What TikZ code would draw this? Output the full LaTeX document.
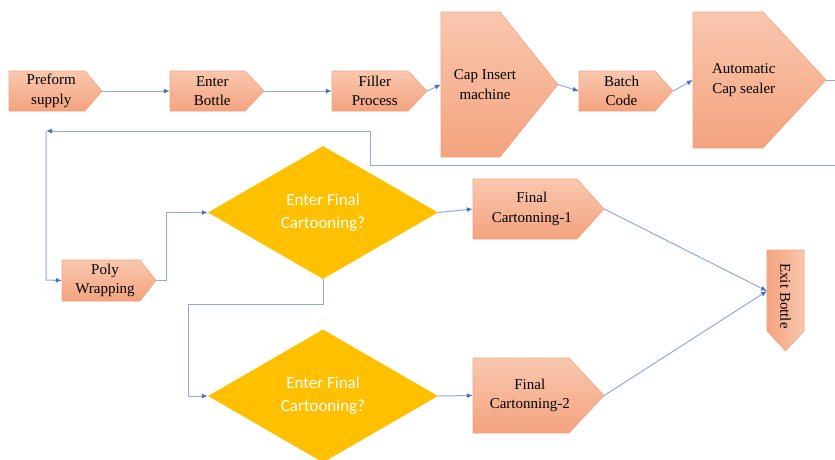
\documentclass[tikz,border=0pt]{standalone}
\usepackage{fontspec}
\setmainfont{Liberation Serif}
\newfontfamily\calib{Carlito}
\usetikzlibrary{shapes.geometric,arrows.meta,fit}
\definecolor{boxtop}{RGB}{249,199,175}
\definecolor{boxbot}{RGB}{244,163,126}
\definecolor{boxline}{RGB}{242,165,128}
\definecolor{dia}{RGB}{255,192,0}
\definecolor{conn}{RGB}{143,170,220}
\definecolor{tipc}{RGB}{68,114,196}
\tikzset{
  boxtext/.style={font=\fontsize{15}{19.5}\selectfont, align=center, inner sep=0pt, text=black},
  dtext/.style={font=\calib\fontsize{17}{23}\selectfont, align=center, text=white},
  decision/.style={diamond, fill=dia, inner sep=0pt, minimum width=230pt, minimum height=133pt},
  conn/.style={draw=conn, line width=1pt, -{Latex[length=6pt,width=5pt,color=tipc]}},
  plain/.style={draw=conn, line width=1pt},
}
\newcommand{\pent}[7]{%
  \shade[top color=boxtop,bottom color=boxbot,draw=boxline,line width=0.6pt]
    (#2,#3) -- (#6,#3) -- (#4,{(#3+#5)/2}) -- (#6,#5) -- (#2,#5) -- cycle;
  \node[fit={(#2,#3) (#4,#5)},inner sep=0pt] (#1) {};
  \node[boxtext] (#1-t) at ({(#2+#6)/2+(#4-#6)/4},{(#3+#5)/2}) {#7};}
\begin{document}
\begin{tikzpicture}[x=1pt,y=-1pt]
\useasboundingbox (0,0) rectangle (835,459);
% process boxes
\pent{pre}{9}{71}{102}{111}{85}{Preform\\supply}
\pent{eb}{170}{71}{264}{111}{245}{Enter\\Bottle}
\pent{fil}{332}{71}{427}{111}{408}{Filler\\Process}
\pent{cap}{441}{12}{558}{157}{500}{Cap Insert\\machine}
\pent{bat}{579}{71}{673}{111}{655}{Batch\\Code}
\pent{aut}{693}{12}{826}{148}{763}{Automatic\\Cap sealer}
\pent{pw}{62}{260}{156}{301}{140}{Poly\\Wrapping}
\pent{fc1}{473}{179}{604}{239}{577}{Final\\Cartonning-1}
\pent{fc2}{473}{358}{604}{433}{569}{Final\\Cartonning-2}
% exit bottle (pointing down)
\shade[left color=boxbot,right color=boxtop,draw=boxline,line width=0.6pt]
  (767,250) -- (804,250) -- (804,331) -- (785.5,351) -- (767,331) -- cycle;
\node[fit={(767,250) (804,351)},inner sep=0pt] (ex) {};
\node[boxtext,rotate=-90] (ex-t) at (785.5,296) {Exit Bottle};
% decisions
\node[decision] (d1) at (323,212.5) {};
\node[dtext] (d1-t) at (323,212.5) {Enter Final\\Cartooning?};
\node[decision] (d2) at (323,396) {};
\node[dtext] (d2-t) at (323,396) {Enter Final\\Cartooning?};
% coordinates
\coordinate (fb) at (46,131);
\coordinate (exin) at (767,291);
% connectors
\draw[conn] (pre.east) -- (eb.west);
\draw[conn] (eb.east) -- (fil.west);
\draw[conn] (fil.east) -- (cap.west);
\draw[conn] (cap.east) -- (bat.west);
\draw[conn] (bat.east) -- (aut.west);
\draw[conn] (aut.east) -- (850,80) -- (850,165) -- (370,165) -- (370,131) -- (fb);
\draw[conn] (fb) -- (46,280) -- (pw.west);
\draw[conn] (pw.east) -- (166,280.5) -- (166,212.5) -- (d1.west);
\draw[conn] (d1.south) -- (323,304) -- (188,304) -- (188,396) -- (d2.west);
\draw[conn] (d1.east) -- (fc1.west);
\draw[conn] (d2.east) -- (fc2.west);
\draw[conn] (fc1.east) -- (exin);
\draw[conn] (fc2.east) -- (exin);
\end{tikzpicture}
\end{document}
